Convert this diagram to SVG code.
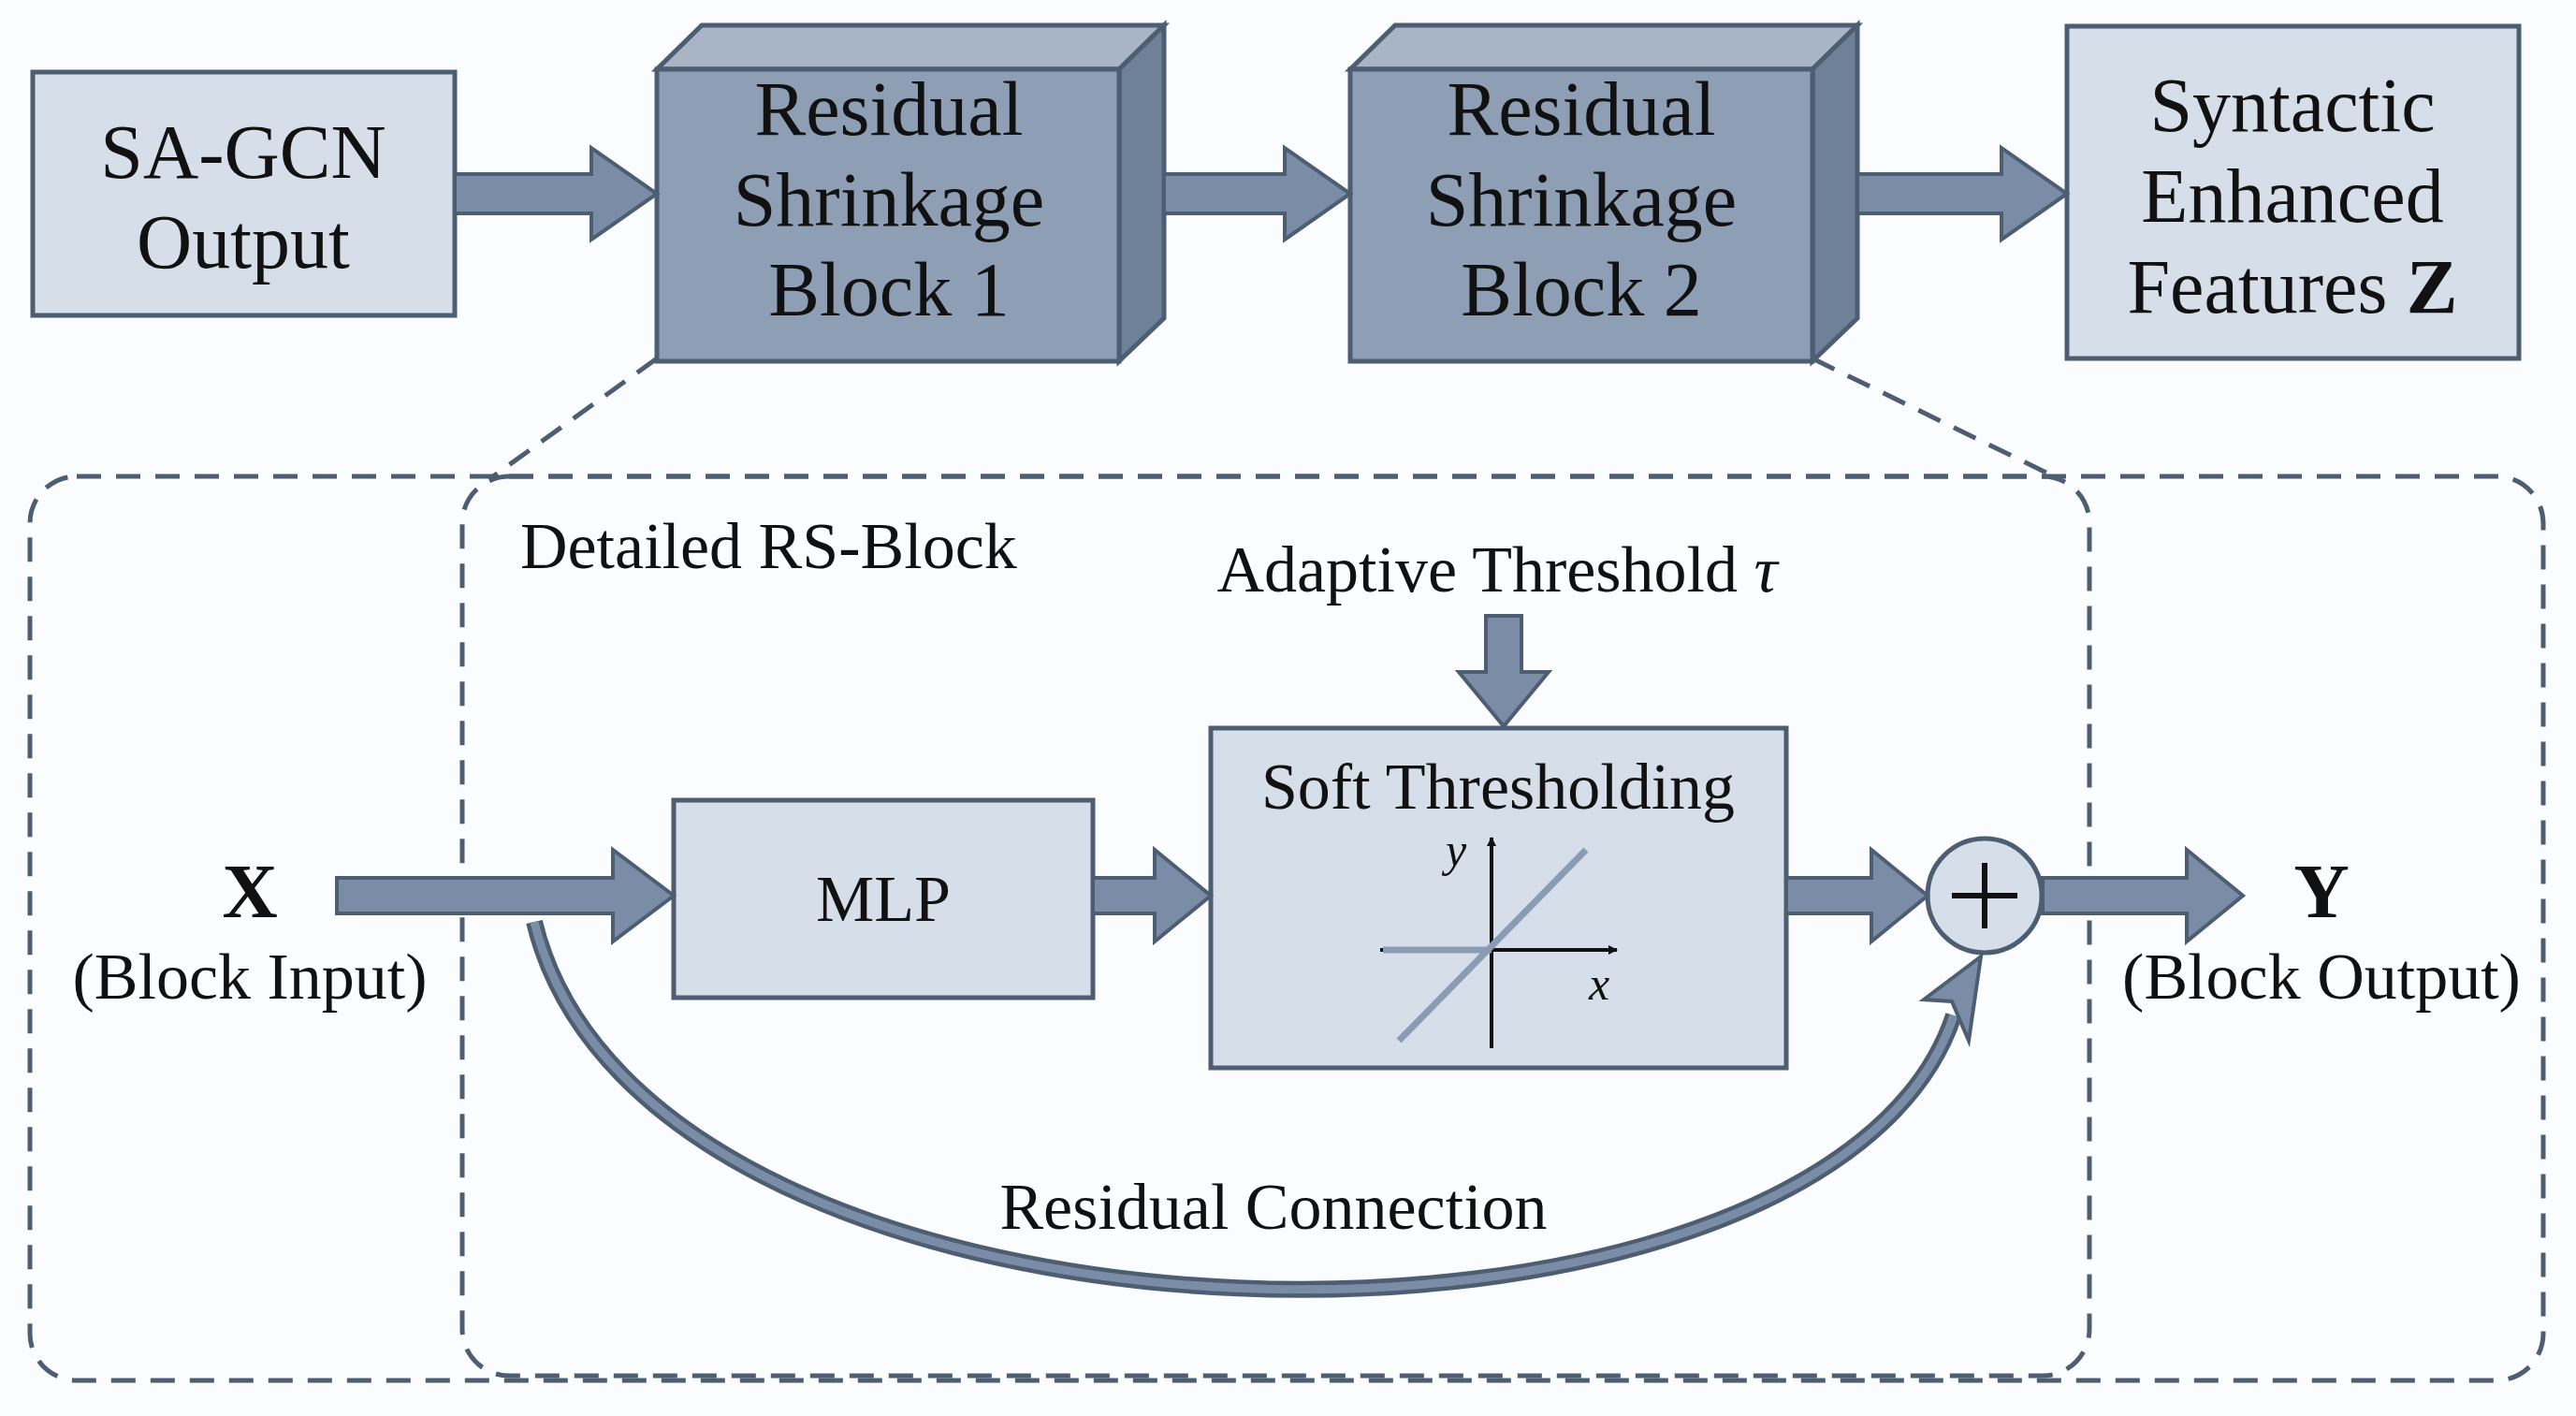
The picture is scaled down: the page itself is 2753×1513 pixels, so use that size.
<svg xmlns="http://www.w3.org/2000/svg" width="2753" height="1513" viewBox="0 0 2753 1513">
<defs>
<style>
text{font-family:"Liberation Serif","Times New Roman",serif;fill:#111}
.big{font-size:82px;text-anchor:middle}
.mid{font-size:70px}
.box{fill:#d6dfe9;stroke:#4d5d72;stroke-width:5}
.arr{fill:#7b8da6;stroke:#4d5d72;stroke-width:4;stroke-linejoin:miter}
.dash{fill:none;stroke:#4d5d72;stroke-width:5;stroke-dasharray:26 16}
</style>
<marker id="ah" markerWidth="10" markerHeight="10" refX="9" refY="5" orient="auto" markerUnits="userSpaceOnUse" viewBox="0 0 10 10"><path d="M0,0 L10,5 L0,10 z" fill="#111"/></marker>
</defs>
<rect width="2753" height="1513" fill="#fbfcfd"/>
<g id="panel">
<rect x="32" y="509" width="2686" height="966" rx="50" fill="#eef1f5" class="dash"/>
<rect x="494" y="509" width="1739" height="961" rx="50" class="dash"/>
<line x1="702" y1="383" x2="527" y2="509" class="dash"/>
<line x1="1937" y1="383" x2="2195" y2="509" class="dash"/>
<text x="556" y="607" class="mid">Detailed RS-Block</text>
</g>
<g id="sagcn"><rect x="35" y="77" width="451" height="260" class="box"/>
<text class="big" x="260" y="190">SA-GCN</text><text class="big" x="260" y="286">Output</text></g>
<g id="block1">
<polygon points="702,74 750,27 1244,27 1196,74" fill="#a7b5c7" stroke="#4d5d72" stroke-width="5"/>
<polygon points="1196,74 1244,27 1244,340 1196,386" fill="#6f8099" stroke="#4d5d72" stroke-width="5"/>
<rect x="702" y="74" width="494" height="312" fill="#8e9fb5" stroke="#4d5d72" stroke-width="5"/>
<text class="big" x="950" y="144">Residual</text><text class="big" x="950" y="241">Shrinkage</text><text class="big" x="950" y="337">Block 1</text></g>
<g id="block2">
<polygon points="1443,74 1491,27 1985,27 1937,74" fill="#a7b5c7" stroke="#4d5d72" stroke-width="5"/>
<polygon points="1937,74 1985,27 1985,340 1937,386" fill="#6f8099" stroke="#4d5d72" stroke-width="5"/>
<rect x="1443" y="74" width="494" height="312" fill="#8e9fb5" stroke="#4d5d72" stroke-width="5"/>
<text class="big" x="1690" y="144">Residual</text><text class="big" x="1690" y="241">Shrinkage</text><text class="big" x="1690" y="337">Block 2</text></g>
<g id="syntactic"><rect x="2209" y="28" width="483" height="355" class="box"/>
<text class="big" x="2450" y="140">Syntactic</text><text class="big" x="2450" y="237">Enhanced</text><text class="big" x="2450" y="334">Features <tspan font-weight="bold">Z</tspan></text></g>
<g id="mlp"><rect x="720" y="855" width="448" height="211" class="box"/>
<text class="mid" x="944" y="984" text-anchor="middle">MLP</text></g>
<g id="soft"><rect x="1294" y="778" width="615" height="363" class="box"/>
<text class="mid" x="1601" y="864" text-anchor="middle">Soft Thresholding</text>
<line x1="1594" y1="1120" x2="1594" y2="895" stroke="#111" stroke-width="4" marker-end="url(#ah)"/>
<line x1="1475" y1="1015" x2="1728" y2="1015" stroke="#111" stroke-width="4" marker-end="url(#ah)"/>
<line x1="1478" y1="1015" x2="1594" y2="1015" stroke="#8a9bb3" stroke-width="7"/>
<line x1="1495" y1="1112" x2="1695" y2="908" stroke="#8a9bb3" stroke-width="7"/>
<text x="1545" y="925" font-size="50" font-style="italic">y</text>
<text x="1698" y="1068" font-size="50" font-style="italic">x</text></g>
<g id="plus"><circle cx="2121" cy="957" r="61" class="box"/>
<line x1="2086" y1="957" x2="2156" y2="957" stroke="#111" stroke-width="6"/>
<line x1="2121" y1="922" x2="2121" y2="992" stroke="#111" stroke-width="6"/></g>
<g id="labels">
<text class="big" x="267" y="980" font-weight="bold">X</text>
<text class="mid" x="267" y="1067" text-anchor="middle">(Block Input)</text>
<text class="big" x="2481" y="980" font-weight="bold">Y</text>
<text class="mid" x="2481" y="1067" text-anchor="middle">(Block Output)</text>
<text class="mid" x="1600" y="632" text-anchor="middle">Adaptive Threshold <tspan font-style="italic">τ</tspan></text>
<text class="mid" x="1361" y="1313" text-anchor="middle">Residual Connection</text>
</g>
<g id="connectors">
<polygon class="arr" points="486,186 632,186 632,158 702,207 632,256 632,228 486,228"/>
<polygon class="arr" points="1244,186 1373,186 1373,158 1443,207 1373,256 1373,228 1244,228"/>
<polygon class="arr" points="1985,186 2139,186 2139,158 2209,207 2139,256 2139,228 1985,228"/>
<polygon class="arr" points="360,938 655,938 655,908 720,957 655,1006 655,976 360,976"/>
<polygon class="arr" points="1168,938 1234,938 1234,908 1294,957 1234,1006 1234,976 1168,976"/>
<polygon class="arr" points="1909,938 2000,938 2000,908 2060,957 2000,1006 2000,976 1909,976"/>
<polygon class="arr" points="2183,938 2337,938 2337,908 2397,957 2337,1006 2337,976 2183,976"/>
<polygon class="arr" points="1588,658 1626,658 1626,718 1655,718 1607,776 1559,718 1588,718"/>
<path d="M571,985 C690,1480 1950,1500 2088,1085" fill="none" stroke="#4d5d72" stroke-width="18"/>
<path d="M571,985 C690,1480 1950,1500 2088,1085" fill="none" stroke="#7b8da6" stroke-width="9"/>
<polygon class="arr" points="2117,1022 2056,1068 2086,1070 2104,1112"/>
</g>
</svg>
